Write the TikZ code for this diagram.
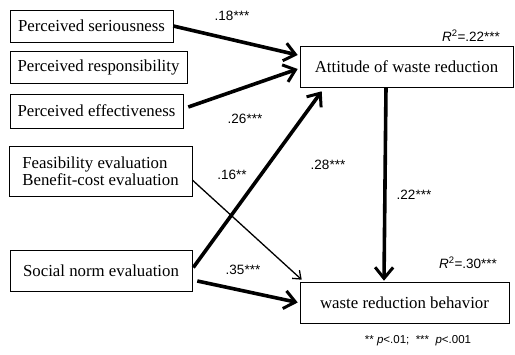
\documentclass[tikz,border=0pt]{standalone}
\usepackage{fontspec}
\setmainfont{Liberation Serif}
\newfontfamily\coeffont{Liberation Sans}
\usetikzlibrary{arrows.meta}

\begin{document}
\begin{tikzpicture}[
    x=1pt,y=-1pt,
    every node/.style={font=\fontsize{16.8}{19}\selectfont},
    factor/.style={draw,line width=0.6pt,inner sep=1.5pt},
    path/.style={-{Straight Barb[length=11pt,width=18pt,line width=3pt]},line width=3.6pt},
    thinpath/.style={-{Straight Barb[length=7pt,width=11pt]},line width=1.3pt},
    coef/.style={font=\coeffont\fontsize{13.5}{15}\selectfont},
]
\useasboundingbox (0,0) rectangle (515,355);

% Predictors (left column)
\node[factor,minimum width=163pt,minimum height=32pt] (ser)  at (91.5,26)  {Perceived seriousness};
\node[factor,minimum width=177pt,minimum height=32pt] (resp) at (98.5,67)  {Perceived responsibility};
\node[factor,minimum width=173pt,minimum height=34pt] (eff)  at (96.5,111) {Perceived effectiveness};
\node[factor,minimum width=183pt,minimum height=50pt,align=left] (feas) at (100.5,171)
    {Feasibility evaluation\\[-2pt]Benefit-cost evaluation};
\node[factor,minimum width=182pt,minimum height=41pt] (soc)  at (101,270.5) {Social norm evaluation};

% Outcomes (right column)
\node[factor,minimum width=213pt,minimum height=41pt] (att) at (406.5,66.5) {Attitude of waste reduction};
\node[factor,minimum width=209pt,minimum height=41pt] (beh) at (404.5,302.5) {waste reduction behavior};

% Paths
\draw[path] (ser.east) -- ([xshift=-2pt,yshift=11.5pt]att.west);
\draw[path] ([xshift=5pt,yshift=4pt]eff.east) -- ([xshift=-2pt,yshift=-2.5pt]att.west);
\draw[path] ([xshift=1pt,yshift=3pt]soc.east) -- ([xshift=22pt,yshift=-4pt]att.south west);
\draw[thinpath] ([yshift=-9pt]feas.east) -- ([xshift=2pt,yshift=2pt]beh.north west);
\draw[path] ([xshift=5pt,yshift=-10.5pt]soc.east) -- ([xshift=-2pt]beh.west);
\draw[path] ([xshift=-20.5pt]att.south) -- ([xshift=-20.5pt,yshift=1pt]beh.north);

% Coefficients
\node[coef] (c1) at (232,16)  {.18***};
\node[coef] (c2) at (245,119) {.26***};
\node[coef] (c3) at (232,175) {.16**};
\node[coef] (c4) at (328,165) {.28***};
\node[coef] (c5) at (243,270) {.35***};
\node[coef] (c6) at (414,195) {.22***};
\node[coef] (r1) at (471,36)  {\textit{R}\textsuperscript{2}=.22***};
\node[coef] (r2) at (468,263) {\textit{R}\textsuperscript{2}=.30***};

% Legend
\node[coef,font=\coeffont\fontsize{11.5}{13}\selectfont] (leg) at (418,341)
    {** \textit{p}<.01;\ \ *** \ \textit{p}<.001};
\end{tikzpicture}
\end{document}
